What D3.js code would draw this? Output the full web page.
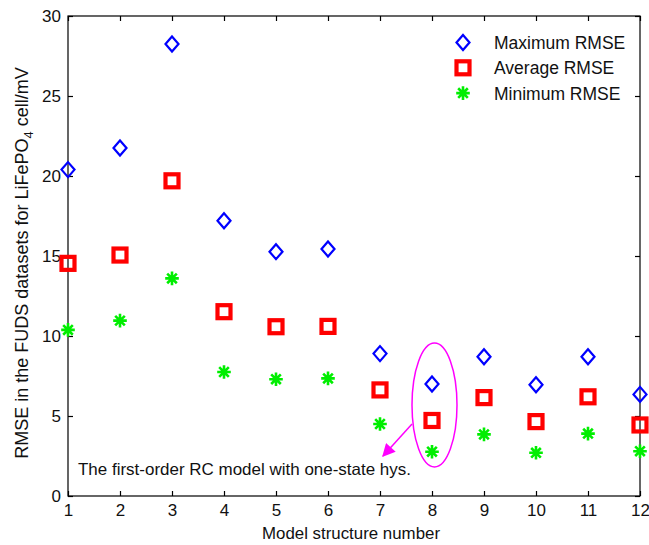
<!DOCTYPE html>
<html><head><meta charset="utf-8">
<script src="https://cdn.jsdelivr.net/npm/d3@7"></script>
<style>
html,body{margin:0;padding:0;background:#fff;}
svg{display:block;font-family:"Liberation Sans",Arial,sans-serif;}
</style></head>
<body>
<svg id="chart" width="649" height="545"></svg>
<script>
const models = [1,2,3,4,5,6,7,8,9,10,11,12];
const maxRMSE = [20.4,21.75,28.25,17.2,15.27,15.44,8.9,7.0,8.7,6.95,8.7,6.35];
const avgRMSE = [14.54,15.06,19.7,11.52,10.58,10.6,6.63,4.72,6.15,4.65,6.2,4.44];
const minRMSE = [10.38,10.96,13.6,7.75,7.3,7.35,4.5,2.77,3.85,2.7,3.9,2.8];
const yTicks = [0,5,10,15,20,25,30];
const legendLabels = ["Maximum RMSE","Average RMSE","Minimum RMSE"];
const annotationText = "The first-order RC model with one-state hys.";

const svg = d3.select("#chart");
const L=68,R=640,T=16,B=496;
const x = d3.scaleLinear().domain([1,12]).range([L,R]);
const y = d3.scaleLinear().domain([0,30]).range([B,T]);

// frame
svg.append("rect").attr("x",L).attr("y",T).attr("width",R-L).attr("height",B-T)
  .attr("fill","none").attr("stroke","#000").attr("stroke-width",1.2);

// axes
const xb = svg.append("g").attr("transform",`translate(0,${B})`)
  .call(d3.axisBottom(x).tickValues(models).tickFormat(d3.format("d")).tickSizeInner(-5).tickSizeOuter(0).tickPadding(8));
const xt = svg.append("g").attr("transform",`translate(0,${T})`)
  .call(d3.axisTop(x).tickValues(models).tickFormat("").tickSizeInner(-5).tickSizeOuter(0));
const yl = svg.append("g").attr("transform",`translate(${L},0)`)
  .call(d3.axisLeft(y).tickValues(yTicks).tickSizeInner(-5).tickSizeOuter(0).tickPadding(7));
const yr = svg.append("g").attr("transform",`translate(${R},0)`)
  .call(d3.axisRight(y).tickValues(yTicks).tickFormat("").tickSizeInner(-5).tickSizeOuter(0));
[xb,xt,yl,yr].forEach(g=>{
  g.select(".domain").remove();
  g.selectAll(".tick line").attr("stroke","#000").attr("stroke-width",1.2);
  g.selectAll("text").attr("font-size",17).attr("font-family","Liberation Sans, Arial, sans-serif").attr("fill","#111");
});

// marker generators
function diamond(g){
  g.append("path").attr("d","M0,-7.5L6.5,0L0,7.5L-6.5,0Z")
   .attr("fill","none").attr("stroke","#0000ff").attr("stroke-width",2.2);
}
function square(g){
  g.append("rect").attr("x",-6.5).attr("y",-6.5).attr("width",13).attr("height",13)
   .attr("fill","none").attr("stroke","#ff0000").attr("stroke-width",4.2);
}
function star(g){
  const r=6.8;
  const d=[0,45,90,135].map(a=>{const t=a*Math.PI/180;const c=Math.cos(t)*r,s=Math.sin(t)*r;return `M${-c},${-s}L${c},${s}`;}).join("");
  g.append("path").attr("d",d).attr("stroke","#00ee00").attr("stroke-width",2.6).attr("fill","none");
}

const series=[{v:maxRMSE,m:diamond},{v:avgRMSE,m:square},{v:minRMSE,m:star}];
series.forEach(s=>{
  svg.append("g").selectAll("g").data(models).join("g")
    .attr("transform",(d,i)=>`translate(${x(d)},${y(s.v[i])})`)
    .each(function(){s.m(d3.select(this));});
});

// legend
const lg = svg.append("g");
legendLabels.forEach((lab,i)=>{
  const yy=42.5+i*25.3;
  const g=lg.append("g").attr("transform",`translate(463,${yy})`);
  series[i].m(g);
  lg.append("text").attr("x",494).attr("y",yy+6.5).attr("font-size",17.5).attr("fill","#111").text(lab);
});

// annotation
svg.append("ellipse").attr("cx",434.5).attr("cy",405).attr("rx",22.5).attr("ry",62)
  .attr("fill","none").attr("stroke","#ff00ff").attr("stroke-width",1.5);
svg.append("defs").append("marker").attr("id","ah").attr("viewBox","0 0 10 10")
  .attr("refX",9).attr("refY",5).attr("markerWidth",17).attr("markerHeight",13)
  .attr("markerUnits","userSpaceOnUse").attr("orient","auto")
  .append("path").attr("d","M0,0L10,5L0,10Z").attr("fill","#ff00ff");
svg.append("line").attr("x1",412).attr("y1",424).attr("x2",383).attr("y2",456)
  .attr("stroke","#ff00ff").attr("stroke-width",1.5).attr("marker-end","url(#ah)");
svg.append("text").attr("x",78).attr("y",475).attr("font-size",16.5).attr("fill","#111")
  .attr("textLength",333).attr("lengthAdjust","spacingAndGlyphs").text(annotationText);

// axis titles
svg.append("text").attr("x",351).attr("y",539).attr("text-anchor","middle").attr("font-size",17).attr("fill","#111")
  .attr("textLength",178).attr("lengthAdjust","spacingAndGlyphs").text("Model structure number");
const yt = svg.append("text").attr("transform","translate(28,263) rotate(-90)").attr("text-anchor","middle")
  .attr("font-size",18).attr("fill","#111");
yt.append("tspan").text("RMSE in the FUDS datasets for LiFePO");
yt.append("tspan").attr("dy",5).attr("font-size",13).text("4");
yt.append("tspan").attr("dy",-5).text(" cell/mV");
</script>
</body></html>
